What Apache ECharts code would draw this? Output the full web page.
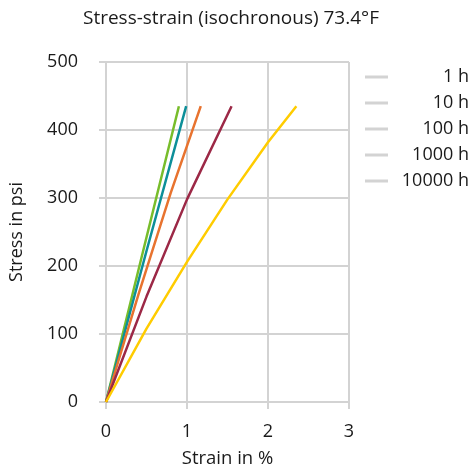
<!DOCTYPE html>
<html><head><meta charset="utf-8">
<script src="https://cdn.jsdelivr.net/npm/echarts@6/dist/echarts.min.js"></script>
<style>html,body{margin:0;padding:0;background:#fff}#c{width:473px;height:473px}</style>
</head><body><div id="c"></div>
<script>
const seriesNames = ['1 h','10 h','100 h','1000 h','10000 h'];
const colors = ['#78bd2b','#0d8f99','#e8732f','#9c2846','#ffcc00'];
const s1h = [[0,0],[0.45,218],[0.90,435]];
const s10h = [[0,0],[0.5,222],[0.99,435]];
const s100h = [[0,0],[0.4,158],[0.8,308],[1.17,435]];
const s1000h = [[0,0],[0.5,155],[1.0,298],[1.55,435]];
const s10000h = [[0,0],[0.5,108],[1.0,206],[1.5,298],[2.0,382],[2.35,435]];
const allData = [s1h,s10h,s100h,s1000h,s10000h];
const xTicks = {min:0,max:3,interval:1};
const yTicks = {min:0,max:500,interval:100};
const font = '"Open Sans", "Noto Sans", sans-serif';
const grey = '#d3d3d3';
const txt = '#1a1a1a';
const chart = echarts.init(document.getElementById('c'));
chart.setOption({
  animation:false,
  title:{text:'Stress-strain (isochronous) 73.4°F',left:226,textAlign:'center',top:4,
    textStyle:{fontFamily:font,fontSize:19,fontWeight:'normal',color:txt}},
  grid:{left:106,right:124,top:62,bottom:68},
  legend:{orient:'vertical',left:360,top:63,itemWidth:23,itemHeight:3,itemGap:8,icon:'rect',
    data:seriesNames.map(n=>({name:n,itemStyle:{color:grey}})),
    formatter:n=>'{a|'+n+'}',
    textStyle:{fontFamily:font,fontSize:18,color:txt,
      rich:{a:{fontFamily:font,fontSize:18,color:txt,width:76,align:'right'}}}},
  xAxis:{type:'value',min:xTicks.min,max:xTicks.max,interval:xTicks.interval,
    name:'Strain in %',nameLocation:'middle',nameGap:47,
    nameTextStyle:{fontFamily:font,fontSize:18.5,color:txt},
    axisLine:{show:true,lineStyle:{color:grey,width:2}},
    axisTick:{show:true,length:7,lineStyle:{color:grey,width:2}},
    splitLine:{show:true,lineStyle:{color:grey,width:2}},
    axisLabel:{fontFamily:font,fontSize:18,color:txt,margin:21}},
  yAxis:{type:'value',min:yTicks.min,max:yTicks.max,interval:yTicks.interval,
    name:'Stress in psi',nameLocation:'middle',nameGap:80,
    nameTextStyle:{fontFamily:font,fontSize:18,color:txt},
    axisLine:{show:true,lineStyle:{color:grey,width:2}},
    axisTick:{show:true,length:7,lineStyle:{color:grey,width:2}},
    splitLine:{show:true,lineStyle:{color:grey,width:2}},
    axisLabel:{fontFamily:font,fontSize:18,color:txt,margin:28,padding:[3,0,0,0]}},
  series:seriesNames.map((n,i)=>({name:n,type:'line',data:allData[i],showSymbol:false,symbol:'none',
    smooth:false,lineStyle:{color:colors[i],width:2.5},itemStyle:{color:grey}}))
});
</script></body></html>
